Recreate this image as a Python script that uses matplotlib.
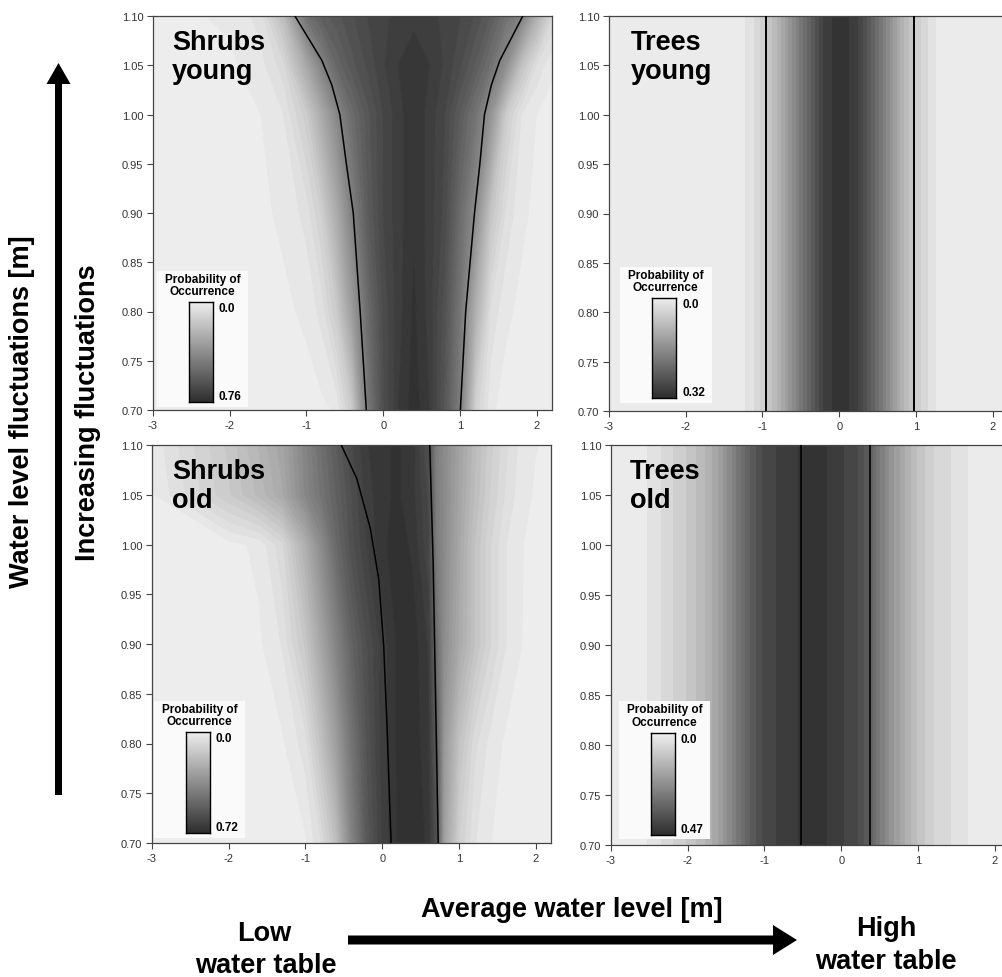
import numpy as np
import matplotlib
matplotlib.use("Agg")
import matplotlib.pyplot as plt
from matplotlib.colors import LinearSegmentedColormap
from matplotlib.patches import Rectangle, FancyArrowPatch, ArrowStyle

plt.rcParams['font.family'] = ['Liberation Sans', 'DejaVu Sans']

# ---------------- data ----------------
y_ticks = [0.70, 0.75, 0.80, 0.85, 0.90, 0.95, 1.00, 1.05, 1.10]
x_ticks = [-3, -2, -1, 0, 1, 2]

# Shrubs young: probability grid (rows = fluctuation levels, cols = avg water level)
sy_x = [-3.0, -2.0, -1.6, -1.3, -1.0, -0.8, -0.6, -0.4, -0.2, 0.0, 0.2, 0.4,
        0.6, 0.8, 1.0, 1.2, 1.4, 1.6, 1.8, 2.0, 2.2]
sy_y = [0.70, 0.80, 0.90, 1.00, 1.05, 1.10]
sy_p_070 = [0.015, 0.015, 0.015, 0.015, 0.015, 0.018, 0.03, 0.15, 0.47, 0.63, 0.71,
            0.75, 0.71, 0.60, 0.45, 0.12, 0.03, 0.015, 0.015, 0.015, 0.015]
sy_p_080 = [0.015, 0.015, 0.015, 0.02, 0.03, 0.06, 0.15, 0.33, 0.52, 0.64, 0.70,
            0.74, 0.70, 0.62, 0.48, 0.25, 0.07, 0.03, 0.02, 0.015, 0.015]
sy_p_090 = [0.015, 0.015, 0.02, 0.03, 0.06, 0.13, 0.27, 0.44, 0.58, 0.66, 0.70,
            0.73, 0.70, 0.65, 0.52, 0.39, 0.17, 0.07, 0.03, 0.02, 0.015]
sy_p_100 = [0.015, 0.015, 0.025, 0.05, 0.14, 0.27, 0.41, 0.52, 0.60, 0.66, 0.70,
            0.73, 0.70, 0.66, 0.58, 0.49, 0.36, 0.14, 0.05, 0.025, 0.015]
sy_p_105 = [0.015, 0.02, 0.04, 0.09, 0.28, 0.43, 0.54, 0.60, 0.64, 0.68, 0.71,
            0.73, 0.71, 0.68, 0.64, 0.58, 0.50, 0.38, 0.18, 0.07, 0.03]
sy_p_110 = [0.015, 0.03, 0.06, 0.20, 0.50, 0.57, 0.60, 0.63, 0.66, 0.68, 0.69,
            0.70, 0.69, 0.68, 0.66, 0.63, 0.58, 0.50, 0.44, 0.25, 0.10]
sy_max = 0.76
sy_left_x = [-0.22, -0.30, -0.39, -0.48, -0.565, -0.67, -0.80, -1.15]
sy_left_y = [0.70, 0.80, 0.90, 0.95, 1.00, 1.03, 1.055, 1.10]
sy_right_x = [1.006, 1.075, 1.19, 1.26, 1.32, 1.41, 1.52, 1.82]
sy_right_y = [0.70, 0.80, 0.90, 0.95, 1.00, 1.03, 1.055, 1.10]

# Shrubs old
so_x = [-3.0, -2.0, -1.6, -1.3, -1.0, -0.8, -0.6, -0.4, -0.2, 0.0, 0.2, 0.4,
        0.6, 0.7, 0.8, 1.0, 1.2, 1.4, 1.6, 1.8, 2.0, 2.2]
so_y = [0.70, 0.80, 0.90, 1.00, 1.05, 1.10]
so_p_070 = [0.015, 0.015, 0.015, 0.015, 0.02, 0.07, 0.18, 0.40, 0.56, 0.65, 0.70,
            0.72, 0.69, 0.60, 0.30, 0.12, 0.05, 0.025, 0.015, 0.015, 0.015, 0.015]
so_p_080 = [0.015, 0.015, 0.015, 0.02, 0.06, 0.17, 0.30, 0.46, 0.58, 0.66, 0.70,
            0.71, 0.68, 0.56, 0.33, 0.17, 0.08, 0.04, 0.02, 0.015, 0.015, 0.015]
so_p_090 = [0.015, 0.015, 0.02, 0.05, 0.15, 0.27, 0.40, 0.52, 0.60, 0.66, 0.70,
            0.71, 0.67, 0.50, 0.37, 0.26, 0.17, 0.10, 0.05, 0.025, 0.015, 0.015]
so_p_100 = [0.015, 0.015, 0.03, 0.09, 0.24, 0.37, 0.50, 0.59, 0.65, 0.69, 0.71,
            0.69, 0.63, 0.44, 0.38, 0.27, 0.17, 0.10, 0.05, 0.025, 0.02, 0.015]
so_p_105 = [0.02, 0.14, 0.20, 0.26, 0.39, 0.46, 0.53, 0.60, 0.66, 0.69, 0.70,
            0.68, 0.62, 0.43, 0.38, 0.28, 0.19, 0.12, 0.07, 0.035, 0.02, 0.015]
so_p_110 = [0.03, 0.15, 0.22, 0.28, 0.40, 0.48, 0.55, 0.62, 0.67, 0.69, 0.70,
            0.68, 0.60, 0.42, 0.38, 0.29, 0.20, 0.13, 0.08, 0.04, 0.025, 0.02]
so_max = 0.72
so_left_x = [0.116, 0.064, 0.02, -0.045, -0.154, -0.33, -0.533]
so_left_y = [0.70, 0.815, 0.898, 0.965, 1.016, 1.066, 1.10]
so_right_x = [0.73, 0.695, 0.664, 0.62]
so_right_y = [0.70, 0.848, 0.982, 1.10]

# Trees young: profile independent of fluctuations
ty_x = [-3.0, -1.3, -1.15, -1.0, -0.9, -0.8, -0.7, -0.6, -0.5, -0.4, -0.3, -0.2,
        0.0, 0.2, 0.3, 0.4, 0.5, 0.6, 0.7, 0.8, 0.9, 1.0, 1.15, 1.3, 2.2]
ty_p = [0.005, 0.007, 0.026, 0.053, 0.074, 0.099, 0.132, 0.165, 0.198, 0.23, 0.26,
        0.29, 0.315, 0.295, 0.27, 0.24, 0.21, 0.175, 0.14, 0.105, 0.08, 0.058,
        0.03, 0.008, 0.005]
ty_max = 0.32
ty_lines = [-0.96, 0.97]

# Trees old
to_x = [-3.0, -2.6, -2.4, -2.2, -2.0, -1.8, -1.6, -1.4, -1.2, -1.0, -0.7, -0.4,
        -0.1, 0.2, 0.35, 0.45, 0.6, 0.8, 1.0, 1.2, 1.45, 1.6, 2.2]
to_p = [0.01, 0.015, 0.04, 0.07, 0.097, 0.133, 0.19, 0.27, 0.35, 0.41, 0.436, 0.46,
        0.44, 0.40, 0.36, 0.30, 0.24, 0.17, 0.11, 0.07, 0.044, 0.024, 0.015]
to_max = 0.47
to_lines = [-0.52, 0.37]

fluct_range = [0.70, 1.10]

# ---------------- figure ----------------
W, H = 1003, 978
fig = plt.figure(figsize=(W / 100, H / 100), dpi=100)
cmap = LinearSegmentedColormap.from_list('greys_prob', ['#f0f0f0', '#2e2e2e'])


def fx(px):
    return px / W


def fy(py):
    return 1 - py / H


def make_axes(left, top, bottom, width):
    return fig.add_axes([fx(left), fy(bottom), width / W, (bottom - top) / H])


ax_sy = make_axes(153, 17, 411, 399)
ax_ty = make_axes(609, 17, 412, 399)
ax_so = make_axes(152, 446, 844, 399)
ax_to = make_axes(611, 446, 846, 399)


def style(ax):
    ax.set_xlim(-3, 2.2)
    ax.set_ylim(0.70, 1.10)
    ax.set_xticks(x_ticks)
    ax.set_xticklabels([str(t) for t in x_ticks])
    ax.set_yticks(y_ticks)
    ax.set_yticklabels(['%.2f' % t for t in y_ticks])
    ax.tick_params(direction='out', length=4, width=0.8, color='#444',
                   labelsize=8, labelcolor='#333', pad=3)
    for s in ax.spines.values():
        s.set_color('#444')
        s.set_linewidth(0.9)


def draw_field(ax, xs, ys, Z, vmax, n):
    levels = np.linspace(0, vmax, n)
    cs = ax.contourf(xs, ys, Z, levels=levels, cmap=cmap, vmin=0, vmax=vmax,
                     extend='both', antialiased=True)
    cs.set_edgecolor('face')
    cs.set_linewidth(0.6)
    return cs


def legend_box(ax, bx, by, vmax_label):
    ax.add_patch(Rectangle((bx, by), 0.229, 0.345, transform=ax.transAxes,
                           facecolor='#fafafa', edgecolor='none', zorder=5))
    ax.text(bx + 0.114, by + 0.340, 'Probability of\nOccurrence', transform=ax.transAxes,
            ha='center', va='top', fontsize=8.5, fontweight='bold', zorder=6,
            linespacing=1.05)
    cax = ax.inset_axes([bx + 0.080, by + 0.012, 0.061, 0.254])
    cax.imshow(np.linspace(0, 1, 256)[:, None], cmap=cmap, aspect='auto',
               extent=[0, 1, 0, 1], origin='upper')
    cax.set_xticks([])
    cax.set_yticks([])
    for s in cax.spines.values():
        s.set_color('black')
        s.set_linewidth(1.0)
    cax.set_zorder(7)
    ax.text(bx + 0.155, by + 0.266, '0.0', transform=ax.transAxes, ha='left',
            va='top', fontsize=8.5, fontweight='bold', zorder=8)
    ax.text(bx + 0.155, by + 0.012, vmax_label, transform=ax.transAxes, ha='left',
            va='bottom', fontsize=8.5, fontweight='bold', zorder=8)


def title(ax, txt, xf):
    ax.text(xf, 0.968, txt, transform=ax.transAxes, ha='left', va='top',
            fontsize=19.5, fontweight='bold', zorder=6, linespacing=1.15)


# Shrubs young
Z = np.array([sy_p_070, sy_p_080, sy_p_090, sy_p_100, sy_p_105, sy_p_110])
draw_field(ax_sy, sy_x, sy_y, Z, sy_max, 31)
ax_sy.plot(sy_left_x, sy_left_y, color='black', lw=1.1, zorder=4)
ax_sy.plot(sy_right_x, sy_right_y, color='black', lw=1.1, zorder=4)
style(ax_sy)
title(ax_sy, 'Shrubs\nyoung', 0.048)
legend_box(ax_sy, 0.010, 0.008, '0.76')

# Trees young
Z = np.array([ty_p, ty_p])
draw_field(ax_ty, ty_x, fluct_range, Z, ty_max, 21)
for xl in ty_lines:
    ax_ty.plot([xl, xl], fluct_range, color='black', lw=1.4, zorder=4)
style(ax_ty)
title(ax_ty, 'Trees\nyoung', 0.055)
legend_box(ax_ty, 0.028, 0.02, '0.32')

# Shrubs old
Z = np.array([so_p_070, so_p_080, so_p_090, so_p_100, so_p_105, so_p_110])
draw_field(ax_so, so_x, so_y, Z, so_max, 31)
ax_so.plot(so_left_x, so_left_y, color='black', lw=1.1, zorder=4)
ax_so.plot(so_right_x, so_right_y, color='black', lw=1.1, zorder=4)
style(ax_so)
title(ax_so, 'Shrubs\nold', 0.05)
legend_box(ax_so, 0.005, 0.012, '0.72')

# Trees old
Z = np.array([to_p, to_p])
draw_field(ax_to, to_x, fluct_range, Z, to_max, 21)
for xl in to_lines:
    ax_to.plot([xl, xl], fluct_range, color='black', lw=1.2, zorder=4)
style(ax_to)
title(ax_to, 'Trees\nold', 0.048)
legend_box(ax_to, 0.020, 0.014, '0.47')

# ---------------- outer annotations ----------------
bold = dict(fontweight='bold', color='black', fontsize=19.5)
fig.text(fx(22.5), fy(412), 'Water level fluctuations [m]', rotation=90,
         ha='center', va='center', **bold)
fig.text(fx(88.5), fy(413), 'Increasing fluctuations', rotation=90,
         ha='center', va='center', **bold)
fig.text(fx(572), fy(917), 'Average water level [m]', ha='center',
         va='baseline', **bold)
fig.text(fx(264), fy(941), 'Low', ha='center', va='baseline', **bold)
fig.text(fx(266), fy(973), 'water table', ha='center', va='baseline', **bold)
fig.text(fx(886), fy(936), 'High', ha='center', va='baseline', **bold)
fig.text(fx(886), fy(969), 'water table', ha='center', va='baseline', **bold)

px2pt = 0.72
v_arrow = FancyArrowPatch((fx(58.5), fy(796)), (fx(58.5), fy(64)),
                          transform=fig.transFigure,
                          arrowstyle=ArrowStyle.Simple(head_length=21 * px2pt,
                                                       head_width=24 * px2pt,
                                                       tail_width=7 * px2pt),
                          mutation_scale=1, shrinkA=0, shrinkB=0,
                          facecolor='black', edgecolor='none', lw=0)
h_arrow = FancyArrowPatch((fx(348), fy(941)), (fx(797), fy(941)),
                          transform=fig.transFigure,
                          arrowstyle=ArrowStyle.Simple(head_length=24 * px2pt,
                                                       head_width=30 * px2pt,
                                                       tail_width=9 * px2pt),
                          mutation_scale=1, shrinkA=0, shrinkB=0,
                          facecolor='black', edgecolor='none', lw=0)
fig.add_artist(v_arrow)
fig.add_artist(h_arrow)

fig.savefig('out.png', dpi=100)
